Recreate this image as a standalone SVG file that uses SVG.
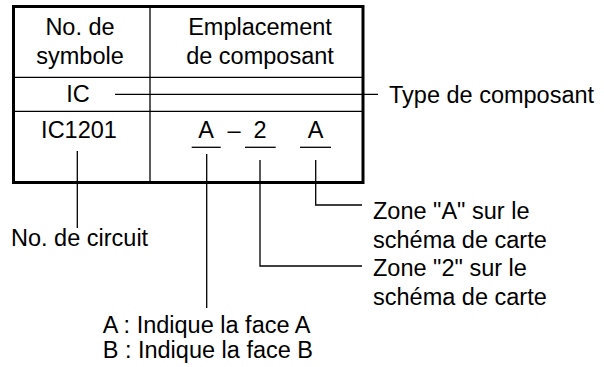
<svg xmlns="http://www.w3.org/2000/svg" width="604" height="367" viewBox="0 0 604 367">
<style>
text{font-family:"Liberation Sans",Arial,sans-serif;font-size:23.5px;fill:#000}
.c{text-anchor:middle}
.thin{stroke:#000;stroke-width:1.3;fill:none}
.thick{stroke:#000;stroke-width:3;fill:none}
</style>
<rect width="604" height="367" fill="#fff"/>
<g id="table">
<rect class="thick" x="13.5" y="6.5" width="349.5" height="176"/>
<line class="thin" x1="150" y1="6.5" x2="150" y2="182.5"/>
<line class="thin" x1="13.5" y1="77.3" x2="363" y2="77.3"/>
<line class="thin" x1="13.5" y1="111.3" x2="363" y2="111.3"/>
<text class="c" x="80" y="35">No. de</text>
<text class="c" x="80" y="64">symbole</text>
<text class="c" x="260" y="35">Emplacement</text>
<text class="c" x="260" y="64">de composant</text>
<text class="c" x="78" y="102">IC</text>
<text class="c" x="79" y="138">IC1201</text>
<text class="c" x="206" y="138">A</text>
<text class="c" x="234" y="138">–</text>
<text class="c" x="260" y="138">2</text>
<text class="c" x="315.5" y="138">A</text>
<line class="thin" x1="191.7" y1="147.3" x2="220.7" y2="147.3"/>
<line class="thin" x1="245" y1="147.3" x2="275.7" y2="147.3"/>
<line class="thin" x1="300" y1="147.3" x2="331" y2="147.3"/>
</g>
<g id="connectors">
<line class="thin" x1="115" y1="94.3" x2="378" y2="94.3"/>
<line class="thin" x1="77.3" y1="151" x2="77.3" y2="228"/>
<line class="thin" x1="206.7" y1="154" x2="206.7" y2="308"/>
<polyline class="thin" points="260,160 260,266 362,266"/>
<polyline class="thin" points="315.7,160 315.7,205 362,205"/>
</g>
<g id="label-type"><text x="389" y="102.7">Type de composant</text></g>
<g id="label-circuit"><text x="11" y="246">No. de circuit</text></g>
<g id="label-zoneA"><text x="373" y="219">Zone "A" sur le</text><text x="373" y="247.5">schéma de carte</text></g>
<g id="label-zone2"><text x="373" y="276">Zone "2" sur le</text><text x="373" y="304.5">schéma de carte</text></g>
<g id="label-face"><text x="102.7" y="333">A : Indique la face A</text><text x="102.7" y="358">B : Indique la face B</text></g>
</svg>
